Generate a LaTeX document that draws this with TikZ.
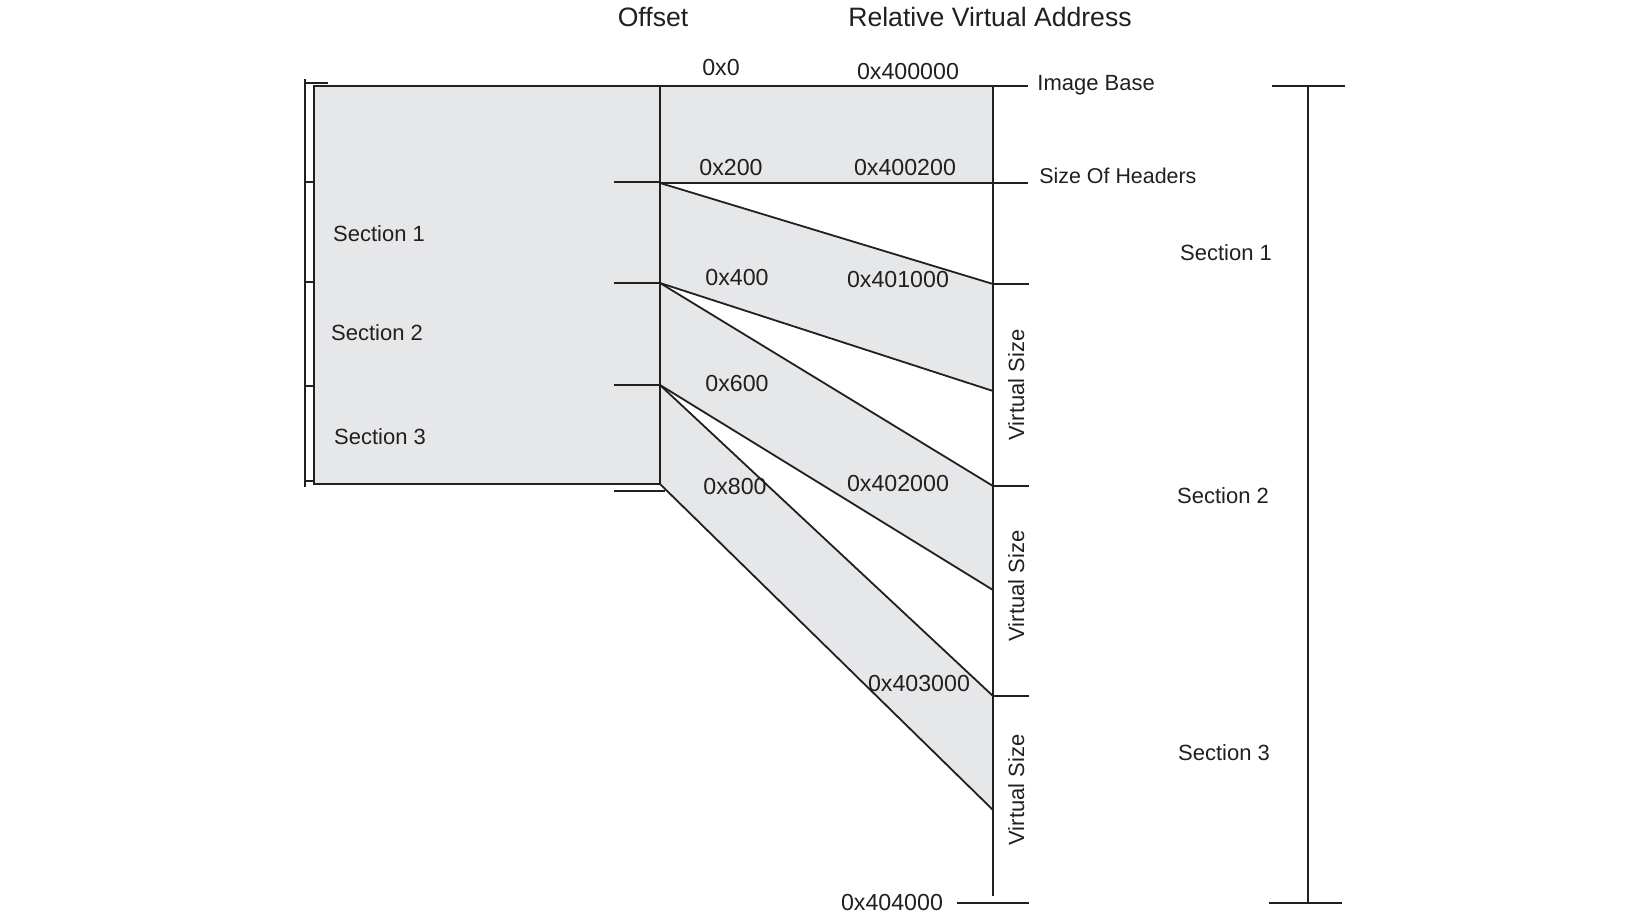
\documentclass[tikz,border=0pt]{standalone}
\usepackage{fontspec}
\setmainfont{Liberation Sans}
\definecolor{linec}{HTML}{231F20}
\definecolor{grayf}{HTML}{E6E7E9}
\begin{document}
\begin{tikzpicture}[x=0.5pt,y=-0.5pt,
  ln/.style={line width=0.9pt, draw=linec},
  lbl/.style={inner sep=0pt, text=linec, font=\fontsize{11}{13}\selectfont, text height=8pt, text depth=0pt},
  hex/.style={lbl, font=\fontsize{11.6}{13}\selectfont},
  ttl/.style={inner sep=0pt, text=linec, font=\fontsize{13.3}{15}\selectfont, text height=9.6pt, text depth=0pt}]
\useasboundingbox (0,0) rectangle (1650,914);
\fill[white] (0,0) rectangle (1650,914);

% key points: offsets (file) and RVAs (memory)
\coordinate (o0) at (660,86);
\coordinate (o200) at (660,183);
\coordinate (o400) at (660,283);
\coordinate (o600) at (660,385);
\coordinate (o800) at (660,485);
\coordinate (r0) at (993,86);
\coordinate (r200) at (993,183);
\coordinate (r1000) at (993,284);
\coordinate (r1e) at (993,391);
\coordinate (r2000) at (993,486);
\coordinate (r2e) at (993,590);
\coordinate (r3000) at (993,696);
\coordinate (r3e) at (993,810);
\coordinate (r4000) at (993,896);
\coordinate (fileTL) at (314,86);
\coordinate (fileBR) at (660,484);

% fills
\fill[grayf] (fileTL) rectangle (fileBR);
\fill[grayf] (o0) rectangle (r200);
\fill[grayf] (o200) -- (r1000) -- (r1e) -- (o400) -- cycle;
\fill[grayf] (o400) -- (r2000) -- (r2e) -- (o600) -- cycle;
\fill[grayf] (o600) -- (r3000) -- (r3e) -- (o800) -- cycle;

% file rectangle and main lines
\draw[ln] (fileTL) rectangle (fileBR);
\coordinate (ibEnd) at (1028,86);
\coordinate (shEnd) at (1028,183);
\draw[ln] (o0) -- (ibEnd);
\draw[ln] (o200) -- (shEnd);
\draw[ln] (r0) -- (r4000);

% mapping lines
\draw[ln] (o200) -- (r1000);
\draw[ln] (o400) -- (r1e);
\draw[ln] (o400) -- (r2000);
\draw[ln] (o600) -- (r2e);
\draw[ln] (o600) -- (r3000);
\draw[ln] (660,484) -- (r3e);

% RVA ticks
\draw[ln] (r1000) -- (1029,284);
\draw[ln] (r2000) -- (1029,486);
\draw[ln] (r3000) -- (1029,696);
\draw[ln] (957,903) -- (1029,903);

% offset ticks
\draw[ln] (614,182) -- (660,182);
\draw[ln] (614,283) -- (660,283);
\draw[ln] (614,385) -- (660,385);
\draw[ln] (614,491) -- (665,491);

% left bracket
\draw[ln] (305,79) -- (305,487);
\draw[ln] (305,83) -- (328,83);
\draw[ln] (305,182) -- (314,182);
\draw[ln] (305,282) -- (314,282);
\draw[ln] (305,386) -- (314,386);
\draw[ln] (305,481) -- (314,481);

% right bracket
\draw[ln] (1308,86) -- (1308,903);
\draw[ln] (1272,86) -- (1345,86);
\draw[ln] (1269,903) -- (1342,903);

% titles
\node[ttl] (tOff) at (653,17) {Offset};
\node[ttl] (tRVA) at (990,17) {Relative Virtual Address};

% hex labels
\node[hex] (h0) at (721,68) {0x0};
\node[hex] (h400000) at (908,72) {0x400000};
\node[hex] (h200) at (731,168) {0x200};
\node[hex] (h400200) at (905,168) {0x400200};
\node[hex] (h400) at (737,278) {0x400};
\node[hex] (h401000) at (898,280) {0x401000};
\node[hex] (h600) at (737,384) {0x600};
\node[hex] (h800) at (735,487) {0x800};
\node[hex] (h402000) at (898,484) {0x402000};
\node[hex] (h403000) at (919,683) {0x403000};
\node[hex] (h404000) at (892,902) {0x404000};

% right labels
\node[lbl, anchor=west] (ib) at (1037,83) {Image Base};
\node[lbl, anchor=west, font=\fontsize{10.7}{13}\selectfont] (soh) at (1039,176) {Size Of Headers};

% section labels
\node[lbl] (ls1) at (379,234) {Section 1};
\node[lbl] (ls2) at (377,333) {Section 2};
\node[lbl] (ls3) at (380,437) {Section 3};
\node[lbl] (rs1) at (1226,253) {Section 1};
\node[lbl] (rs2) at (1223,496) {Section 2};
\node[lbl] (rs3) at (1224,752) {Section 3};

% virtual size labels
\node[lbl, rotate=90] (vs1) at (1016,385) {Virtual Size};
\node[lbl, rotate=90] (vs2) at (1016,586) {Virtual Size};
\node[lbl, rotate=90] (vs3) at (1016,790) {Virtual Size};
\end{tikzpicture}
\end{document}
